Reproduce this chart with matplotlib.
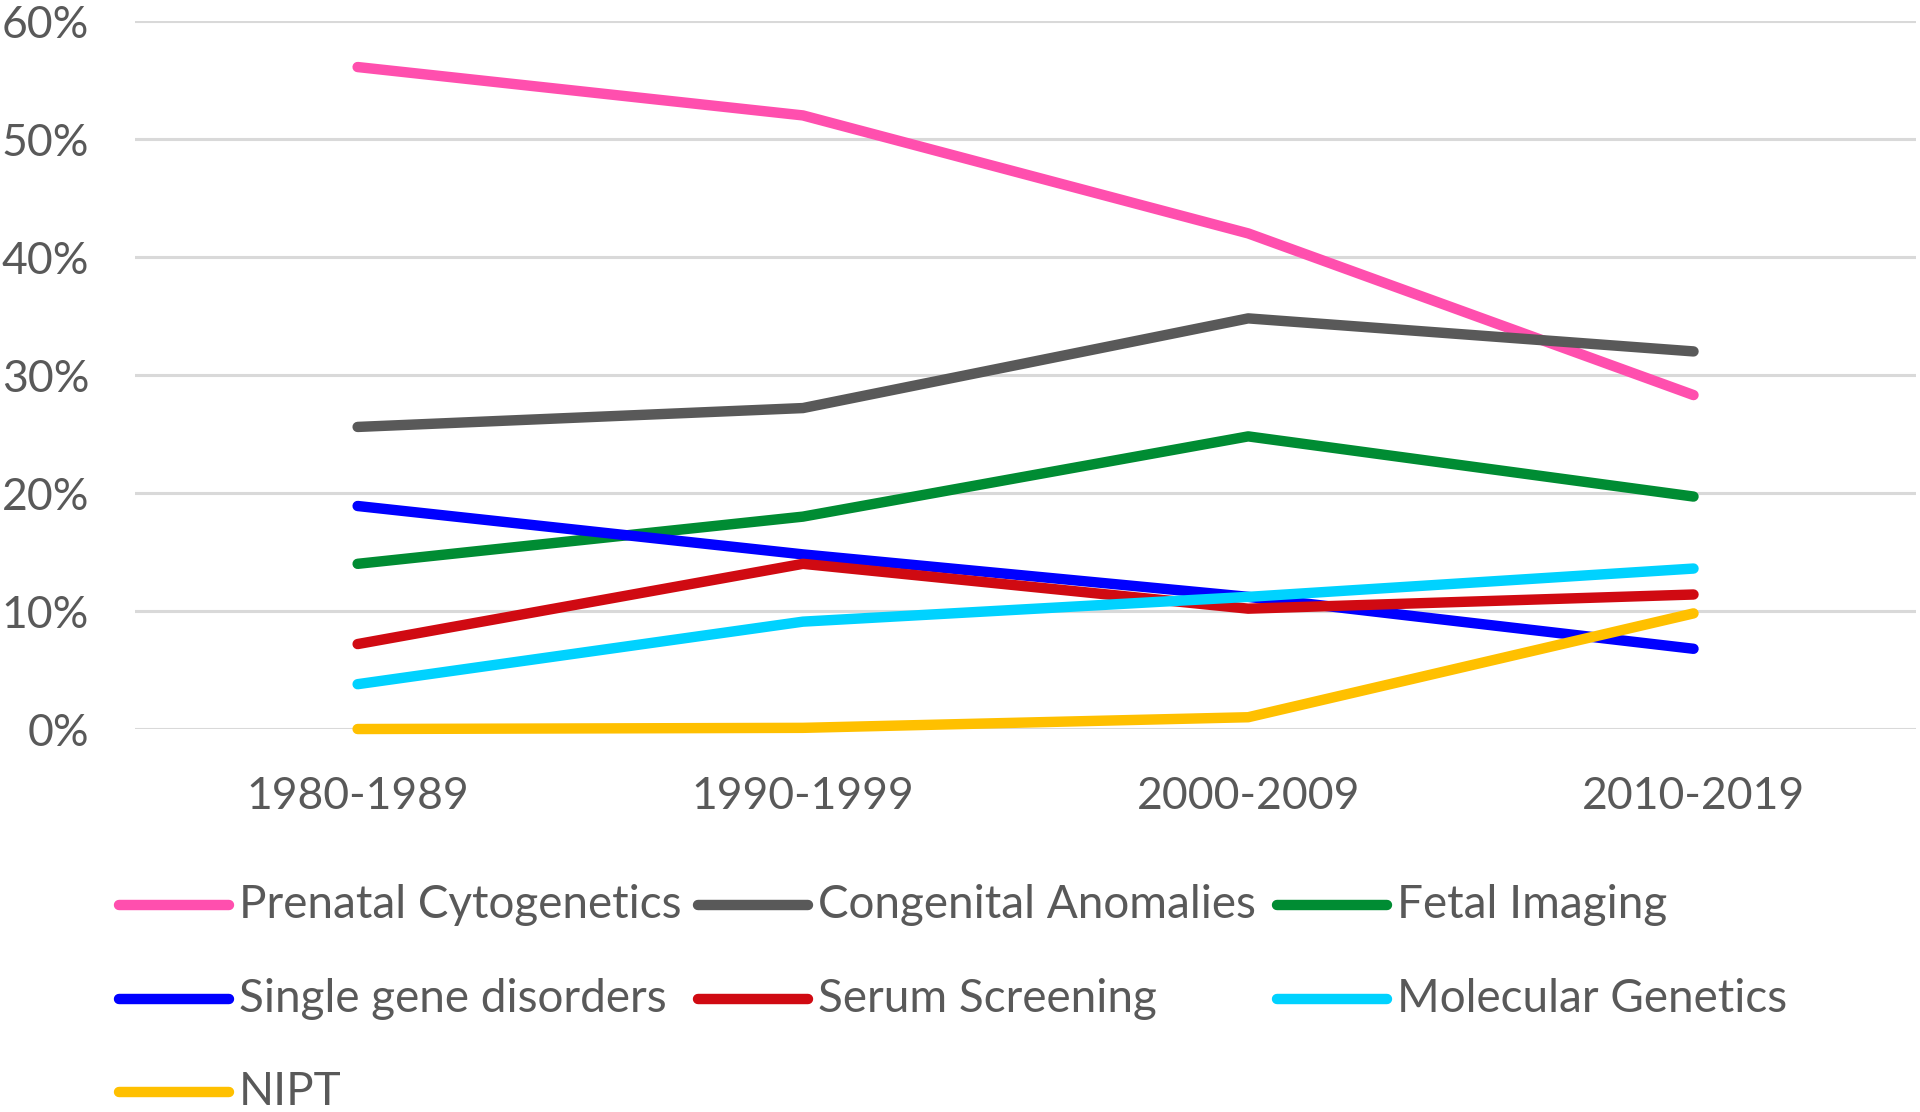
import matplotlib
matplotlib.use('Agg')
import matplotlib.pyplot as plt
from matplotlib.lines import Line2D
from matplotlib.ticker import FuncFormatter

decades = ['1980-1989', '1990-1999', '2000-2009', '2010-2019']

prenatal_cyto = [56.1, 52.0, 42.0, 28.3]
congenital = [25.6, 27.2, 34.8, 32.0]
fetal_imaging = [14.0, 18.0, 24.8, 19.7]
single_gene = [18.9, 14.8, 11.2, 6.8]
serum_screening = [7.2, 14.0, 10.2, 11.4]
molecular_gen = [3.8, 9.1, 11.2, 13.6]
nipt = [0.0, 0.1, 1.0, 9.8]

names = ['Prenatal Cytogenetics', 'Congenital Anomalies', 'Fetal Imaging',
         'Single gene disorders', 'Serum Screening', 'Molecular Genetics', 'NIPT']
series = [prenatal_cyto, congenital, fetal_imaging, single_gene,
          serum_screening, molecular_gen, nipt]
colors = ['#FF4FAE', '#595959', '#008C33', '#0000FF', '#D00A12', '#00D2FF', '#FFC000']

plt.rcParams['font.family'] = ['Lato', 'DejaVu Sans']
txt_col = '#595959'
fs = 32

fig = plt.figure(figsize=(19.2, 11.12), dpi=100)
ax = fig.add_axes([0.0703, 0.3444, 0.9277, 0.6367])

x = range(len(decades))
for vals, c in zip(series, colors):
    ax.plot(x, vals, color=c, lw=7.5, solid_capstyle='round', solid_joinstyle='round',
            zorder=3, clip_on=False)

ax.set_xlim(-0.5, 3.5)
ax.set_ylim(0, 60)
ax.set_yticks(range(0, 61, 10))
ax.yaxis.set_major_formatter(FuncFormatter(lambda v, p: '%d%%' % v))
ax.set_xticks(list(x))
ax.set_xticklabels(decades)
ax.grid(axis='y', color='#D9D9D9', lw=2.2, zorder=0)
ax.set_axisbelow(True)
for s in ax.spines.values():
    s.set_visible(False)
ax.tick_params(axis='y', length=0, pad=33, labelsize=fs, labelcolor=txt_col)
ax.tick_params(axis='x', length=0, pad=34, labelsize=fs, labelcolor=txt_col)

# legend laid out like the original (3 fixed-width columns)
col_x = [119, 698, 1277]
row_y = [905, 999, 1092]
W, H = 1920, 1112
for i, (name, c) in enumerate(zip(names, colors)):
    r, k = divmod(i, 3)
    x0 = col_x[k]
    y0 = row_y[r]
    fig.add_artist(Line2D([x0 / W, (x0 + 110) / W], [1 - y0 / H, 1 - y0 / H],
                          color=c, lw=7.5, solid_capstyle='round'))
    fig.text((x0 + 120) / W, 1 - y0 / H, name, fontsize=33, color=txt_col,
             va='center', ha='left')

fig.savefig('out.png', dpi=100, facecolor='white')
